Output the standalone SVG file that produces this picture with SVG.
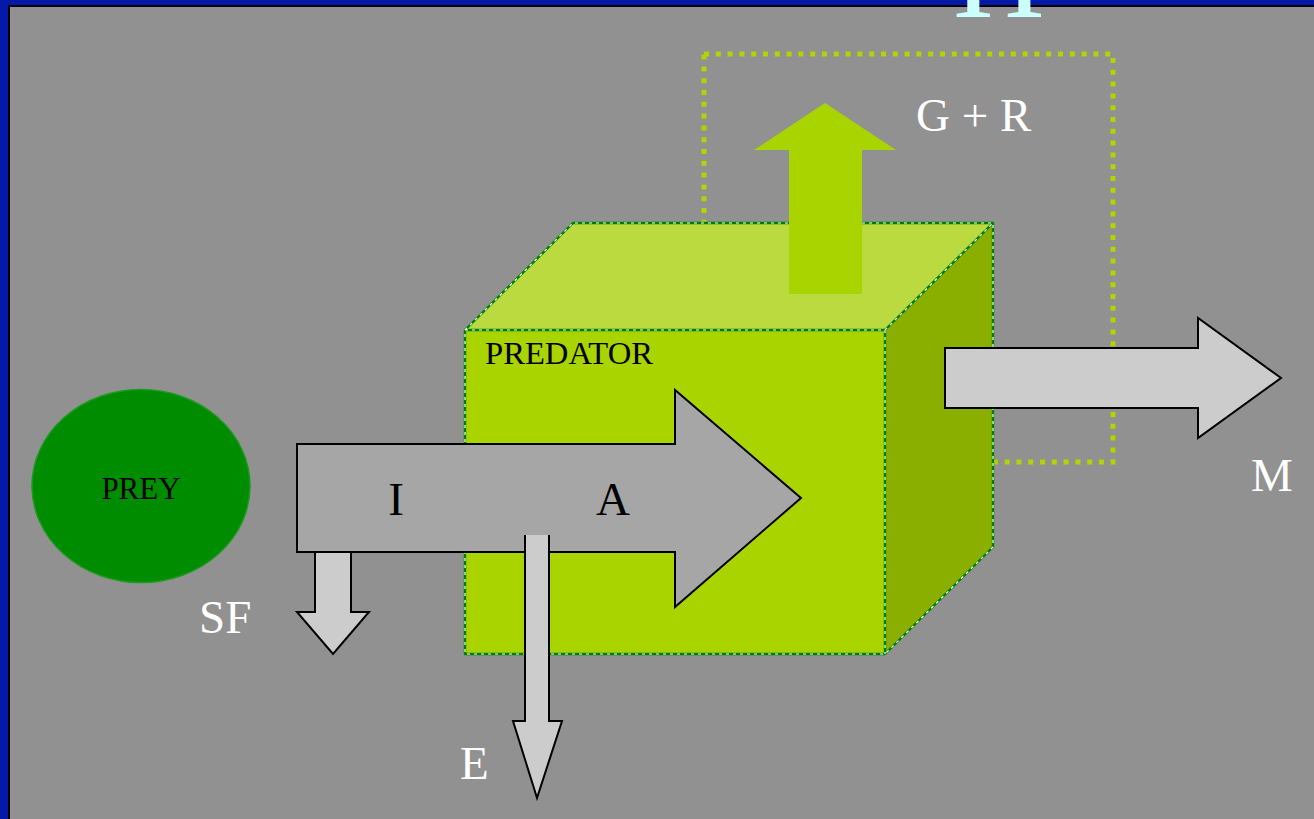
<svg xmlns="http://www.w3.org/2000/svg" width="1314" height="819" viewBox="0 0 1314 819">
<style>
.serif{font-family:"Liberation Serif","Times New Roman",serif}
.lbl{fill:#ffffff;font-size:47px}
.blk{fill:#000000}
.gflow{stroke:#000;stroke-width:2;stroke-linejoin:miter}
.edgeG{fill:none;stroke:#008000;stroke-width:2.4;stroke-linejoin:round}
.edgeW{fill:none;stroke:#ffffff;stroke-width:1.2;stroke-dasharray:3 4}
</style>
<!-- frame -->
<rect x="0" y="0" width="1314" height="819" fill="#0519A8"/>
<rect x="8" y="5" width="1306" height="814" fill="#000000"/>
<rect x="10" y="7" width="1304" height="812" fill="#919191"/>
<text class="serif" x="953" y="17" font-size="127" fill="#CCFFFF">H</text>

<!-- dotted boundary -->
<rect id="boundary" x="704" y="54" width="409" height="408" fill="none" stroke="#B5D300" stroke-width="5" stroke-dasharray="5 6.8"/>

<g id="predator">
  <polygon points="465,330 573,223 993,223 885,330" fill="#BBDA40"/>
  <polygon points="885,330 993,223 993,547 885,654" fill="#8BAF00"/>
  <rect x="465" y="330" width="420" height="324" fill="#AAD400"/>
  <path class="edgeG" d="M465,330 L573,223 L993,223 L993,547 L885,654 L465,654 Z M465,330 L885,330 L993,223 M885,330 L885,654"/>
  <path class="edgeW" d="M465,330 L573,223 L993,223 L993,547 L885,654 L465,654 Z M465,330 L885,330 L993,223 M885,330 L885,654"/>
  <text class="serif blk" x="485" y="364" font-size="32" textLength="168" lengthAdjust="spacingAndGlyphs">PREDATOR</text>
</g>

<g id="prey">
  <ellipse cx="141" cy="486" rx="109" ry="96.5" fill="#008C00" stroke="#1B9A1B" stroke-width="1.5"/>
  <text class="serif blk" x="141" y="499" font-size="31" text-anchor="middle">PREY</text>
</g>

<g id="connectors">
  <g id="growth-respiration">
    <polygon points="789,294 789,150 754,150 825,103 896,150 862,150 862,294" fill="#AAD400"/>
    <text class="serif lbl" x="916" y="131" font-size="48">G + R</text>
  </g>
  <g id="sf">
    <polygon points="315,552 315,612 297,612 333,654 369,612 351,612 351,552" fill="#CCCCCC" class="gflow"/>
    <text class="serif lbl" x="199" y="633">SF</text>
  </g>
  <g id="ingestion-assimilation">
    <polygon points="297,444 675,444 675,390 801,498 675,607 675,552 297,552" fill="#A6A6A6" class="gflow"/>
    <text class="serif blk" x="396" y="515" font-size="47" text-anchor="middle">I</text>
    <text class="serif blk" x="613" y="515" font-size="47" text-anchor="middle">A</text>
  </g>
  <g id="egestion">
    <polygon points="525,535 525,721 513,721 537,798 562,721 549,721 549,535" fill="#CCCCCC"/>
    <polyline points="525,535 525,721 513,721 537,798 562,721 549,721 549,535" fill="none" class="gflow"/>
    <text class="serif lbl" x="460" y="779">E</text>
  </g>
  <g id="mortality">
    <polygon points="945,348 1198,348 1198,318 1281,378 1198,438 1198,408 945,408" fill="#CCCCCC" class="gflow"/>
    <text class="serif lbl" x="1251" y="491">M</text>
  </g>
</g>
</svg>
